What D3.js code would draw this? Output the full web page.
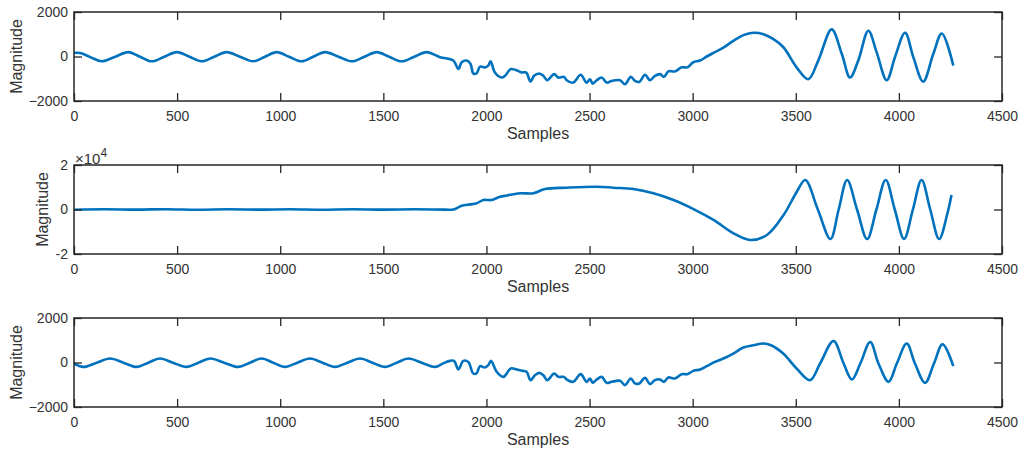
<!DOCTYPE html>
<html>
<head>
<meta charset="utf-8">
<script src="https://cdn.jsdelivr.net/npm/d3@7"></script>
<style>
  body { margin: 0; background: #fff; }
  text { font-family: "Liberation Sans", Arial, sans-serif; }
</style>
</head>
<body>
<svg id="chart" width="1026" height="455"></svg>
<script>
// x axis ticks shared by all three panels
var xTicks = [0, 500, 1000, 1500, 2000, 2500, 3000, 3500, 4000, 4500];

// top panel: [sample, magnitude]
var topSignal = [[0,160],[30,155],[80,-30],[134,-215],[200,-10],[263,195],[320,-10],[377,-215],[438,-10],[498,195],[560,-10],[619,-215],[680,-10],[740,195],[805,-10],[869,-215],[926,-10],[983,195],[1043,-10],[1104,-215],[1160,-10],[1217,195],[1283,-10],[1347,-215],[1408,-10],[1468,195],[1528,-10],[1589,-215],[1650,-10],[1710,195],[1775,-30],[1839,-183],[1864,-560],[1880,-260],[1904,-183],[1923,-335],[1936,-760],[1952,-760],[1969,-457],[1993,-488],[2009,-411],[2020,-214],[2041,-717],[2074,-945],[2090,-868],[2118,-564],[2143,-610],[2171,-717],[2192,-717],[2214,-1127],[2231,-868],[2256,-762],[2276,-868],[2295,-1066],[2328,-792],[2349,-945],[2376,-914],[2389,-1066],[2421,-1173],[2457,-823],[2486,-1173],[2502,-1020],[2515,-1219],[2535,-1066],[2559,-945],[2583,-1173],[2607,-1097],[2648,-1066],[2672,-1250],[2700,-914],[2720,-1097],[2741,-1143],[2769,-823],[2793,-1066],[2817,-868],[2842,-792],[2861,-914],[2882,-670],[2914,-670],[2947,-488],[2974,-488],[3003,-259],[3036,-183],[3068,0],[3108,198],[3149,396],[3197,700],[3246,960],[3294,1066],[3343,1005],[3388,800],[3439,427],[3504,-488],[3561,-1020],[3609,-183],[3674,1219],[3723,122],[3763,-945],[3803,-183],[3852,1158],[3892,198],[3941,-1066],[3981,-30],[4030,1066],[4070,-30],[4118,-1127],[4167,122],[4208,1036],[4264,-411]];

// middle panel (x10^4 scale)
var midSignal = [[0,-100],[150,100],[300,-50],[450,120],[600,-80],[750,100],[900,-60],[1050,120],[1200,-80],[1350,100],[1500,-60],[1650,80],[1800,-50],[1840,0],[1880,1700],[1920,2300],[1952,2780],[1985,4265],[2025,4265],[2066,5750],[2100,6300],[2163,7270],[2227,7270],[2284,9200],[2389,9800],[2535,10240],[2616,9800],[2713,9200],[2810,7270],[2907,4265],[3004,200],[3101,-4700],[3198,-10700],[3279,-13700],[3360,-11450],[3441,-2470],[3505,8000],[3546,13250],[3607,0],[3668,-13250],[3708,0],[3749,13250],[3797,0],[3846,-13250],[3891,0],[3936,13250],[3980,0],[4025,-13250],[4068,0],[4110,13250],[4152,0],[4195,-13250],[4236,-1500],[4255,6500]];

// bottom panel
var botSignal = [[0,-45],[45,-197],[110,-10],[175,179],[240,-10],[304,-197],[360,-10],[417,179],[480,-10],[546,-197],[603,-10],[660,179],[728,-10],[797,-197],[853,-10],[910,179],[966,-10],[1023,-197],[1083,-10],[1144,179],[1205,-10],[1266,-197],[1326,-10],[1387,179],[1447,-10],[1508,-197],[1565,-10],[1621,179],[1686,-10],[1751,-197],[1790,-40],[1823,72],[1843,72],[1864,-314],[1888,72],[1912,27],[1936,-493],[1952,-493],[1969,-166],[1993,-224],[2009,-121],[2022,72],[2050,-421],[2082,-645],[2118,-269],[2147,-314],[2176,-376],[2195,-421],[2214,-793],[2235,-569],[2256,-466],[2276,-569],[2295,-793],[2328,-493],[2349,-645],[2376,-645],[2389,-762],[2421,-869],[2457,-524],[2486,-869],[2502,-717],[2515,-914],[2535,-762],[2559,-645],[2583,-914],[2607,-869],[2648,-824],[2672,-1017],[2700,-717],[2720,-941],[2741,-941],[2769,-690],[2793,-972],[2817,-793],[2842,-762],[2861,-869],[2882,-672],[2914,-717],[2947,-524],[2974,-524],[3003,-376],[3036,-314],[3068,-166],[3108,27],[3149,179],[3197,403],[3246,672],[3294,775],[3343,851],[3380,775],[3439,403],[3504,-269],[3569,-793],[3618,-45],[3683,968],[3732,-45],[3772,-762],[3813,-45],[3861,923],[3901,-45],[3950,-869],[3990,-45],[4038,851],[4078,-45],[4127,-914],[4170,-45],[4212,820],[4264,-166]];

var smallTicks = [-2000, 0, 2000];
var bigTicks = [-20000, 0, 20000];
var bigTickLabels = ["-2", "0", "2"];

var width = 1026, height = 455;
var left = 74, right = 1002;
var panelTop = [12, 165, 318];
var panelH = 89;
var axisColor = "#262626", textColor = "#333", lineColor = "#0072BD";

var svg = d3.select("#chart");

var x = d3.scaleLinear().domain([0, 4500]).range([left, right]);

var panels = [
    {data: topSignal, domain: [-2000, 2000], ticks: smallTicks, fmt: d3.format("d"), labelX: 16, exp: false},
    {data: midSignal, domain: [-20000, 20000], ticks: bigTicks, fmt: function(d, i){ return bigTickLabels[i]; }, labelX: 42, exp: true},
    {data: botSignal, domain: [-2000, 2000], ticks: smallTicks, fmt: d3.format("d"), labelX: 16, exp: false}
];

var styleTicks = function(sel){
    sel.select(".domain").remove();
    sel.selectAll("line").attr("stroke", axisColor).attr("stroke-width", 1.3);
    sel.selectAll("text").attr("font-family", null).attr("font-size", 14).attr("fill", textColor);
    sel.attr("font-family", null);
};

panels.forEach(function(p, i){
    var top = panelTop[i], bottom = top + panelH;
    var y = d3.scaleLinear().domain(p.domain).range([bottom, top]);
    var g = svg.append("g");

    var line = d3.line()
        .x(function(d){ return x(d[0]); })
        .y(function(d){ return y(d[1]); })
        .curve(d3.curveCatmullRom.alpha(0.5));

    g.append("path")
        .datum(p.data)
        .attr("d", line)
        .attr("fill", "none")
        .attr("stroke", lineColor)
        .attr("stroke-width", 2.6)
        .attr("stroke-linejoin", "round");

    // bottom axis with labels, ticks point inward
    g.append("g").attr("transform", "translate(0," + bottom + ")")
        .call(d3.axisBottom(x).tickValues(xTicks).tickSizeInner(-8).tickSizeOuter(0).tickPadding(10).tickFormat(d3.format("d")))
        .call(styleTicks);
    g.append("g").attr("transform", "translate(0," + top + ")")
        .call(d3.axisTop(x).tickValues(xTicks).tickSizeInner(-8).tickSizeOuter(0).tickFormat(""))
        .call(styleTicks);
    g.append("g").attr("transform", "translate(" + left + ",0)")
        .call(d3.axisLeft(y).tickValues(p.ticks).tickSizeInner(-8).tickSizeOuter(0).tickPadding(6).tickFormat(p.fmt))
        .call(styleTicks);
    g.append("g").attr("transform", "translate(" + right + ",0)")
        .call(d3.axisRight(y).tickValues(p.ticks).tickSizeInner(-8).tickSizeOuter(0).tickFormat(""))
        .call(styleTicks);

    // box
    g.append("rect")
        .attr("x", left).attr("y", top)
        .attr("width", right - left).attr("height", panelH)
        .attr("fill", "none")
        .attr("stroke", axisColor)
        .attr("stroke-width", 1.5);

    g.append("text")
        .attr("x", (left + right) / 2)
        .attr("y", bottom + 38)
        .attr("text-anchor", "middle")
        .attr("font-size", 16)
        .attr("fill", textColor)
        .text("Samples");

    g.append("text")
        .attr("transform", "translate(" + p.labelX + "," + (top + panelH / 2) + ") rotate(-90)")
        .attr("dy", "0.35em")
        .attr("text-anchor", "middle")
        .attr("font-size", 16)
        .attr("fill", textColor)
        .text("Magnitude");

    if (p.exp) {
        var t = g.append("text")
            .attr("x", left + 1)
            .attr("y", top - 1)
            .attr("font-size", 15)
            .attr("fill", textColor);
        t.append("tspan").text("\u00d710");
        t.append("tspan").attr("dy", -7).attr("font-size", 12).text("4");
    }
});
</script>
</body>
</html>
